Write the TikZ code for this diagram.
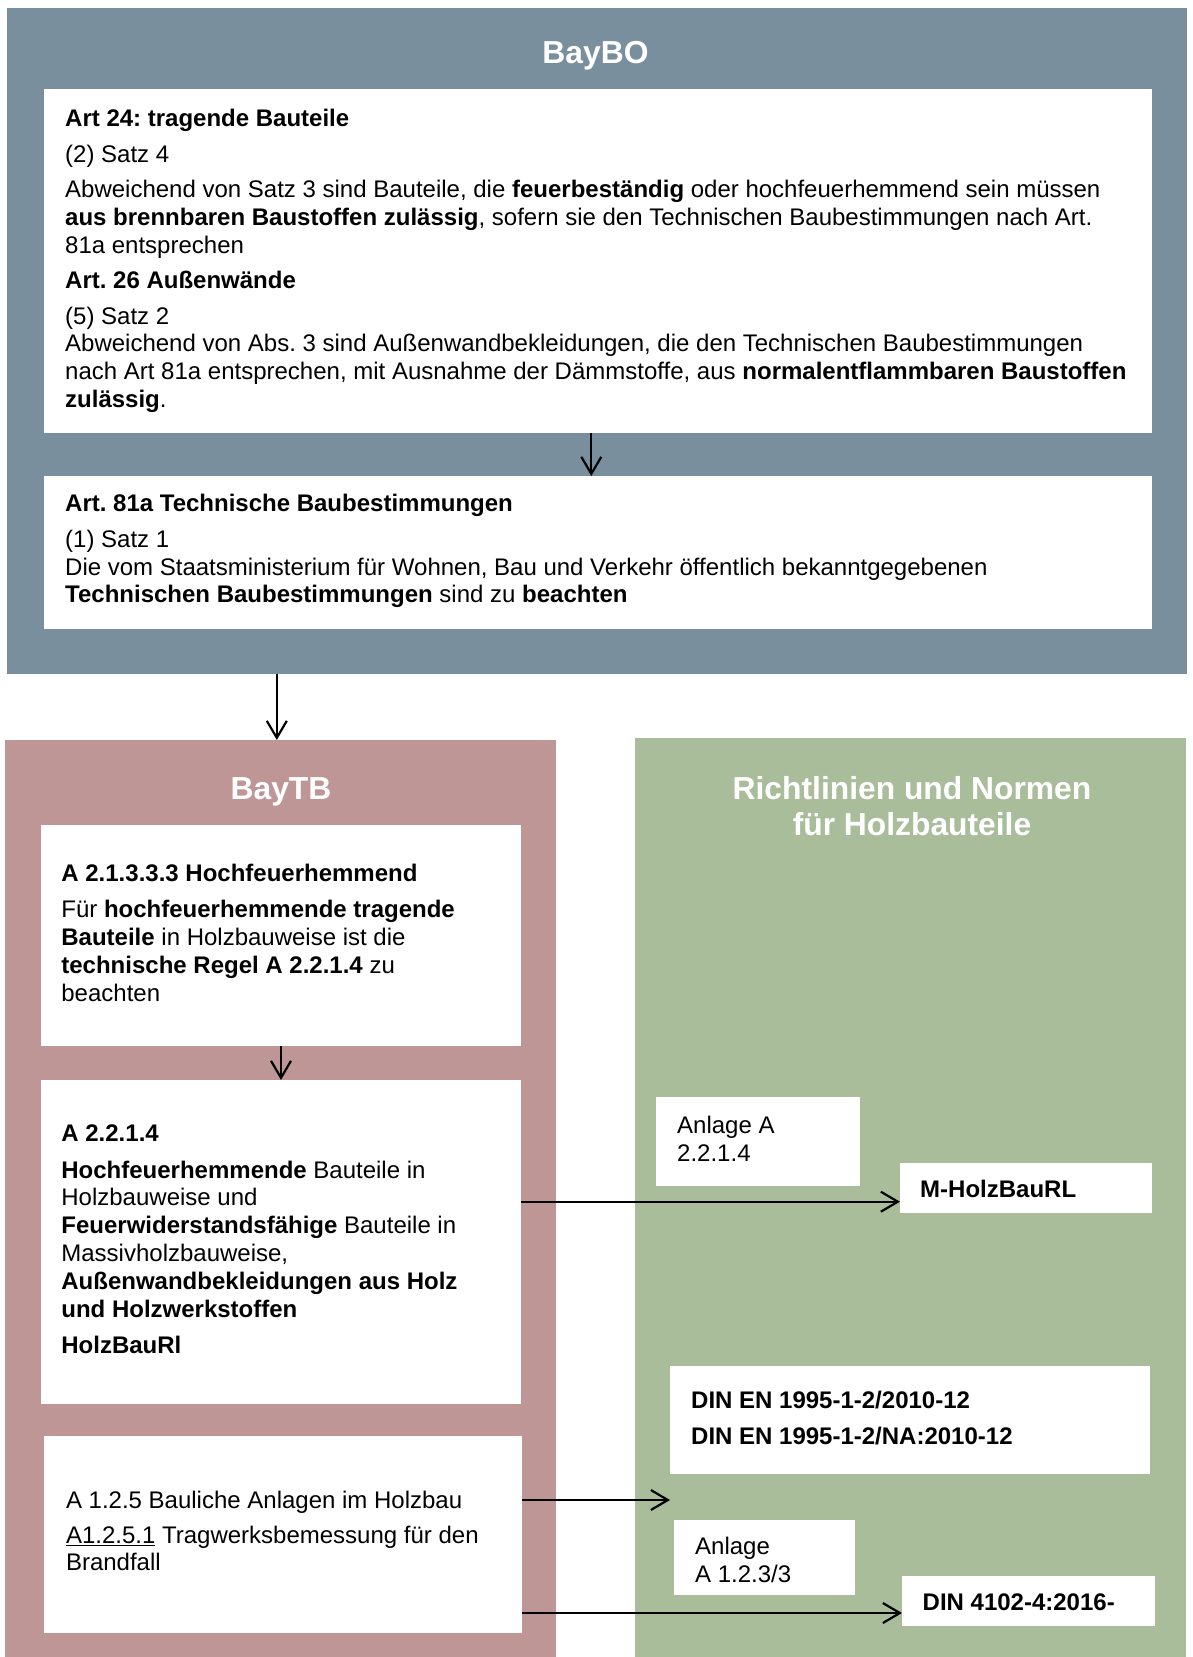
\documentclass[tikz,border=0pt]{standalone}
\usepackage{fontspec}
\setmainfont{Liberation Sans}
\usetikzlibrary{arrows.meta}

\definecolor{bayboblue}{RGB}{122,143,157}
\definecolor{baytbrose}{RGB}{190,150,149}
\definecolor{normgreen}{RGB}{169,189,155}

\frenchspacing
\newcommand\bodysize{\fontsize{24}{27.8}\selectfont}
\newcommand\titlesize{\fontsize{31.8}{36.2}\selectfont\bfseries}
\newcommand\textlines[1]{\begin{tabular}[t]{@{}l@{}}#1\end{tabular}}
\newcommand\titlelines[1]{\begin{tabular}[t]{@{}c@{}}#1\end{tabular}}

\begin{document}
\begin{tikzpicture}[x=1pt,y=-1pt,
  panel/.style={anchor=north west, inner sep=0pt, outer sep=0pt},
  whitebox/.style={panel, fill=white},
  txt/.style={anchor=base west, inner sep=0pt, font=\bodysize},
  ttl/.style={anchor=base, inner sep=0pt, font=\titlesize, text=white},
  link/.style={line width=2.2pt, -{Straight Barb[length=17pt,width=20pt,line width=2.2pt]}},
]
\useasboundingbox (0,0) rectangle (1193,1657);

% ---------- BayBO ----------
\node[panel, fill=bayboblue, minimum width=1180.3, minimum height=665.7] (baybo) at (6.7,8) {};
\node[ttl] (bayboTitle) at (595.5,63) {BayBO};

\node[whitebox, minimum width=1108, minimum height=344] (art24) at (44,89.3) {};
\node[txt] (art24Text) at (65,126.5) {\textlines{%
\textbf{Art 24: tragende Bauteile}\\[7.9pt]
(2) Satz 4\\[7.9pt]
Abweichend von Satz 3 sind Bauteile, die \textbf{feuerbeständig} oder hochfeuerhemmend sein müssen\\
\textbf{aus brennbaren Baustoffen zulässig}, sofern sie den Technischen Baubestimmungen nach Art.\\
81a entsprechen\\[7.1pt]
\textbf{Art. 26 Außenwände}\\[7.8pt]
(5) Satz 2\\
Abweichend von Abs. 3 sind Außenwandbekleidungen, die den Technischen Baubestimmungen\\
nach Art 81a entsprechen, mit Ausnahme der Dämmstoffe, aus \textbf{normalentflammbaren Baustoffen}\\
\textbf{zulässig}.}};

\node[whitebox, minimum width=1108, minimum height=153] (art81) at (44,476) {};
\node[txt] (art81Text) at (65,511.5) {\textlines{%
\textbf{Art. 81a Technische Baubestimmungen}\\[8pt]
(1) Satz 1\\
Die vom Staatsministerium für Wohnen, Bau und Verkehr öffentlich bekanntgegebenen\\
\textbf{Technischen Baubestimmungen} sind zu \textbf{beachten}}};

% ---------- BayTB ----------
\node[panel, fill=baytbrose, minimum width=551, minimum height=917] (baytb) at (5,740) {};
\node[ttl] (baytbTitle) at (281,799) {BayTB};

\node[whitebox, minimum width=480, minimum height=221] (a2133) at (41,825) {};
\node[txt] (a2133Text) at (61.2,881) {\textlines{%
\textbf{A 2.1.3.3.3 Hochfeuerhemmend}\\[9pt]
Für \textbf{hochfeuerhemmende tragende}\\
\textbf{Bauteile} in Holzbauweise ist die\\
\textbf{technische Regel A 2.2.1.4} zu\\
beachten}};

\node[whitebox, minimum width=480, minimum height=324] (a2214) at (41,1080) {};
\node[txt] (a2214Text) at (61.2,1141.8) {\textlines{%
\textbf{A 2.2.1.4}\\[8.5pt]
\textbf{Hochfeuerhemmende} Bauteile in\\
Holzbauweise und\\
\textbf{Feuerwiderstandsfähige} Bauteile in\\
Massivholzbauweise,\\
\textbf{Außenwandbekleidungen aus Holz}\\
\textbf{und Holzwerkstoffen}\\[8.5pt]
\textbf{HolzBauRl}}};

\node[whitebox, minimum width=478, minimum height=197] (a125) at (44,1436) {};
\node[txt] (a125Text) at (65.8,1508.8) {\textlines{%
A 1.2.5 Bauliche Anlagen im Holzbau\\[7pt]
\underline{A1.2.5.1} Tragwerksbemessung für den\\[-1.2pt]
Brandfall}};

% ---------- Richtlinien und Normen ----------
\node[panel, fill=normgreen, minimum width=551, minimum height=919] (norms) at (635,738) {};
\node[ttl] (normsTitle) at (912,799) {\titlelines{Richtlinien und Normen\\ für Holzbauteile}};

\node[whitebox, minimum width=204, minimum height=89] (anlA) at (656,1097) {};
\node[txt] (anlAText) at (677,1133.5) {\textlines{Anlage A\\ 2.2.1.4}};

\node[whitebox, minimum width=252, minimum height=50] (mholz) at (900,1163) {};
\node[txt] (mholzText) at (920,1197.8) {\textbf{M-HolzBauRL}};

\node[whitebox, minimum width=480, minimum height=108] (dinen) at (670,1366) {};
\node[txt] (dinenText) at (691,1408.4) {\textlines{%
\textbf{DIN EN 1995-1-2/2010-12}\\[7.8pt]
\textbf{DIN EN 1995-1-2/NA:2010-12}}};

\node[whitebox, minimum width=181, minimum height=75] (anl123) at (674,1520) {};
\node[txt] (anl123Text) at (695,1554.5) {\textlines{Anlage\\ A 1.2.3/3}};

\node[whitebox, minimum width=253, minimum height=50] (din4102) at (902,1576) {};
\node[txt] (din4102Text) at (922.5,1610.5) {\textbf{DIN 4102-4:2016-}};

% ---------- connectors ----------
\coordinate (colA) at (591.3,0);
\coordinate (colB) at (276.8,0);
\coordinate (rowA) at (0,1201.7);
\coordinate (openEnd) at (670,1500);
\coordinate (rowC) at (0,1613);

\draw[link] (art24.south -| colA) -- (art81.north -| colA);
\draw[link] (baybo.south -| colB) -- (baytb.north -| colB);
\draw[link] (a2133.south) -- (a2214.north);
\draw[link] (a2214.east |- rowA) -- (mholz.west |- rowA);
\draw[link] (a125.east |- openEnd) -- (openEnd);
\draw[link] (a125.east |- rowC) -- (din4102.west |- rowC);
\end{tikzpicture}
\end{document}
